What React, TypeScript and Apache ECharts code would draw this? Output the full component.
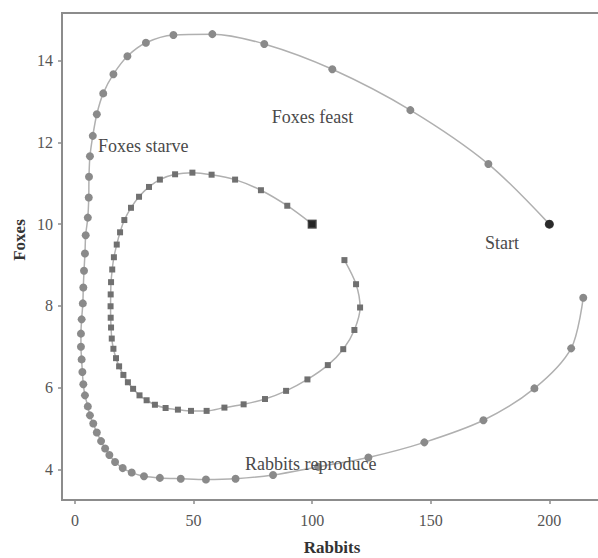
import React, { useEffect, useRef } from "react";
import * as echarts from "echarts";

const outerRabbits = [200, 174.3, 141.4, 108.5, 79.8, 57.9, 41.5, 29.9, 22.1, 16.2, 11.9, 9.2, 7.5, 6.3, 5.9, 5.8, 5.4, 4.5, 4.2, 3.8, 3.5, 3.3, 2.8, 2.5, 2.5, 2.8, 3.1, 3.5, 4.2, 5.4, 6.3, 7.7, 9.2, 11.0, 12.7, 14.5, 16.9, 20.1, 23.9, 29.1, 35.8, 44.6, 55.2, 67.7, 83.5, 102.5, 123.7, 147.3, 172.2, 193.7, 209.2, 214.3];
const outerFoxes = [10, 11.47, 12.79, 13.79, 14.41, 14.65, 14.63, 14.44, 14.11, 13.67, 13.2, 12.69, 12.16, 11.66, 11.16, 10.65, 10.16, 9.73, 9.28, 8.86, 8.45, 8.06, 7.67, 7.32, 7.0, 6.69, 6.38, 6.08, 5.81, 5.54, 5.32, 5.12, 4.9, 4.69, 4.51, 4.35, 4.18, 4.03, 3.92, 3.83, 3.79, 3.77, 3.75, 3.77, 3.86, 4.06, 4.29, 4.66, 5.2, 5.98, 6.96, 8.2];

const innerRabbits = [100, 89.5, 78.4, 67.5, 57.6, 49.5, 42.2, 35.8, 31.2, 27.0, 23.6, 20.8, 19.0, 17.6, 16.4, 15.7, 15.2, 15.05, 15.0, 15.05, 15.2, 15.5, 16.2, 17.3, 18.6, 20.4, 22.3, 24.5, 27.2, 30.2, 33.7, 38.2, 43.4, 48.9, 55.5, 63.0, 71.1, 80.1, 89.0, 98.0, 106.6, 113.1, 117.8, 120.2, 118.5, 113.6];
const innerFoxes = [10, 10.45, 10.83, 11.09, 11.21, 11.26, 11.22, 11.09, 10.91, 10.67, 10.4, 10.1, 9.8, 9.5, 9.19, 8.89, 8.58, 8.28, 7.99, 7.71, 7.47, 7.2, 6.95, 6.72, 6.52, 6.31, 6.13, 5.97, 5.81, 5.69, 5.58, 5.5, 5.46, 5.43, 5.43, 5.51, 5.59, 5.72, 5.92, 6.2, 6.55, 6.94, 7.41, 7.96, 8.53, 9.12];

const xTicks = [0, 50, 100, 150, 200];
const yTicks = [4, 6, 8, 10, 12, 14];

const FONT = "'Liberation Serif', 'DejaVu Serif', serif";

export default function App() {
  const ref = useRef<HTMLDivElement>(null);
  useEffect(() => {
    if (!ref.current) return;
    const chart = echarts.init(ref.current, null, { renderer: "svg" });
    const outer = outerRabbits.map((r, i) => [r, outerFoxes[i]]);
    const inner = innerRabbits.map((r, i) => [r, innerFoxes[i]]);
    chart.setOption({
      animation: false,
      backgroundColor: "#ffffff",
      grid: {
        left: 62,
        top: 13,
        right: -4,
        bottom: 58,
        containLabel: false,
        outerBoundsMode: "none",
        show: true,
        borderColor: "#8c8c8c",
        borderWidth: 2,
      },
      xAxis: {
        type: "value",
        min: -5.48,
        max: 222.2,
        name: "Rabbits",
        nameLocation: "middle",
        nameGap: 39,
        nameTextStyle: { fontFamily: FONT, fontSize: 17, fontWeight: "bold", color: "#333" },
        axisLine: { show: true, onZero: false, lineStyle: { color: "#8c8c8c", width: 2 } },
        axisTick: { show: true, length: 4, customValues: xTicks, lineStyle: { color: "#8c8c8c", width: 1.5 } },
        axisLabel: { customValues: xTicks, margin: 12, fontFamily: FONT, fontSize: 16, color: "#555" },
        splitLine: { show: false },
      },
      yAxis: {
        type: "value",
        min: 3.249,
        max: 15.167,
        axisLine: { show: true, onZero: false, lineStyle: { color: "#8c8c8c", width: 2 } },
        axisTick: { show: true, length: 4, customValues: yTicks, lineStyle: { color: "#8c8c8c", width: 1.5 } },
        axisLabel: { customValues: yTicks, margin: 9, fontFamily: FONT, fontSize: 16, color: "#555" },
        splitLine: { show: false },
      },
      series: [
        {
          type: "line",
          data: outer,
          smooth: 0.3,
          symbol: "circle",
          symbolSize: 8,
          showSymbol: true,
          itemStyle: { color: "#8a8a8a" },
          lineStyle: { color: "#b0b0b0", width: 1.5 },
          z: 2,
        },
        {
          type: "line",
          data: inner,
          smooth: 0.3,
          symbol: "rect",
          symbolSize: 6,
          showSymbol: true,
          itemStyle: { color: "#707070" },
          lineStyle: { color: "#b0b0b0", width: 1.5 },
          z: 2,
        },
        {
          type: "scatter",
          data: [outer[0]],
          symbol: "circle",
          symbolSize: 9,
          itemStyle: { color: "#111" },
          z: 5,
        },
        {
          type: "scatter",
          data: [inner[0]],
          symbol: "rect",
          symbolSize: 9,
          itemStyle: { color: "#111" },
          z: 5,
        },
      ],
      graphic: [
        { type: "text", x: 271.7, y: 116.7, z: 10, style: { text: "Foxes feast", fontFamily: FONT, fontSize: 18, fill: "#4a4a4a", textVerticalAlign: "middle" } },
        { type: "text", x: 98, y: 146, z: 10, style: { text: "Foxes starve", fontFamily: FONT, fontSize: 18, fill: "#4a4a4a", textVerticalAlign: "middle" } },
        { type: "text", x: 485, y: 243, z: 10, style: { text: "Start", fontFamily: FONT, fontSize: 18, fill: "#4a4a4a", textVerticalAlign: "middle" } },
        { type: "text", x: 245, y: 464, z: 10, style: { text: "Rabbits reproduce", fontFamily: FONT, fontSize: 18, fill: "#4a4a4a", textVerticalAlign: "middle" } },
        { type: "text", x: 19, y: 240, rotation: Math.PI / 2, z: 10, style: { text: "Foxes", fontFamily: FONT, fontSize: 17, fontWeight: "bold", fill: "#333", textAlign: "center", textVerticalAlign: "middle" } },
      ],
    });
    return () => chart.dispose();
  }, []);
  return <div ref={ref} style={{ position: "fixed", left: 0, top: 0, width: 598, height: 558 }} />;
}
